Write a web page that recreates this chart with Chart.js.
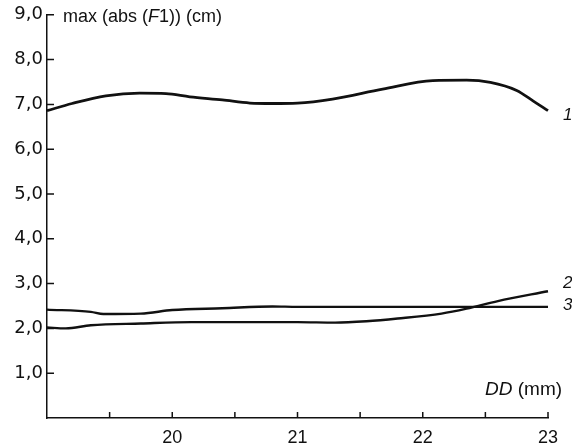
<!DOCTYPE html>
<html>
<head>
<meta charset="utf-8">
<script src="https://cdn.jsdelivr.net/npm/chart.js@4"></script>
<style>
  html, body { margin: 0; padding: 0; background: #fff; }
  #wrap { width: 572px; height: 446px; }
</style>
</head>
<body>
<div id="wrap"><canvas id="myChart"></canvas></div>
<script>
// curve 1 (top)
const dd1 = [19.0, 19.2, 19.47, 19.74, 19.95, 20.14, 20.4, 20.62, 20.8, 21.0, 21.28, 21.68, 22.08, 22.35, 22.54, 22.75, 22.88, 23.0];
const f1 = [6.86, 7.02, 7.19, 7.25, 7.24, 7.17, 7.1, 7.03, 7.02, 7.03, 7.12, 7.34, 7.53, 7.54, 7.49, 7.31, 7.08, 6.86];
// curve 2 (lower, rising at right)
const dd2 = [19.0, 19.15, 19.35, 19.75, 20.15, 20.55, 21.0, 21.3, 21.55, 21.8, 22.15, 22.35, 22.6, 23.0];
const f2 = [2.02, 2.0, 2.07, 2.11, 2.14, 2.14, 2.14, 2.13, 2.16, 2.22, 2.33, 2.44, 2.61, 2.83];
// curve 3 (flat)
const dd3 = [19.0, 19.35, 19.45, 19.75, 20.0, 20.4, 20.8, 21.0, 22.0, 23.0];
const f3 = [2.42, 2.37, 2.32, 2.33, 2.41, 2.45, 2.49, 2.48, 2.48, 2.48];

const yTicks = [1, 2, 3, 4, 5, 6, 7, 8, 9];
const xLabels = [20, 21, 22, 23];
const curveNames = ['1', '2', '3'];
const labelAt = [6.75, 3.0, 2.52];

const pts = (xs, ys) => xs.map((x, i) => ({ x, y: ys[i] }));

const line = (data, w) => ({
  data,
  borderColor: '#111',
  borderWidth: w,
  pointRadius: 0,
  tension: 0.4,
  cubicInterpolationMode: 'monotone',
  clip: false,
});

// inward tick marks + texts
const decor = {
  id: 'decor',
  afterDraw(chart) {
    const { ctx, chartArea: a, scales: { x, y } } = chart;
    ctx.save();
    ctx.strokeStyle = '#111';
    ctx.lineWidth = 1.5;
    ctx.beginPath();
    yTicks.forEach(v => {
      const py = y.getPixelForValue(v);
      ctx.moveTo(a.left, py);
      ctx.lineTo(a.left + 7, py);
    });
    x.ticks.forEach(t => {
      if (t.value <= 19) return;
      const px = x.getPixelForValue(t.value);
      ctx.moveTo(px, a.bottom);
      ctx.lineTo(px, a.bottom - 6);
    });
    ctx.stroke();

    ctx.fillStyle = '#111';
    ctx.textBaseline = 'middle';
    // y title
    let tx = a.left + 16, ty = y.getPixelForValue(9) + 2;
    const parts = [['max (abs (', ''], ['F', 'italic '], ['1)) (cm)', '']];
    parts.forEach(([s, st]) => {
      ctx.font = st + '18px "Liberation Sans"';
      ctx.fillText(s, tx, ty);
      tx += ctx.measureText(s).width;
    });
    // x title
    tx = 485; ty = 390;
    ctx.font = 'italic 19px "Liberation Sans"';
    ctx.fillText('DD', tx, ty);
    tx += ctx.measureText('DD ').width;
    ctx.font = '19px "Liberation Sans"';
    ctx.fillText('(mm)', tx, ty);
    // curve labels
    ctx.font = 'italic 17px "Liberation Sans"';
    curveNames.forEach((n, i) => {
      ctx.fillText(n, x.right + 15, y.getPixelForValue(labelAt[i]));
    });
    ctx.restore();
  }
};

new Chart(document.getElementById('myChart').getContext('2d'), {
  type: 'line',
  data: {
    datasets: [line(pts(dd1, f1), 2.8), line(pts(dd2, f2), 2.4), line(pts(dd3, f3), 2.4)],
  },
  options: {
    responsive: true,
    maintainAspectRatio: false,
    animation: false,
    layout: { padding: { top: 14, right: 24, left: 0, bottom: 0 } },
    plugins: { legend: { display: false }, tooltip: { enabled: false } },
    scales: {
      x: {
        type: 'linear',
        min: 19,
        max: 23,
        afterFit: s => { s.height = 28; },
        grid: { display: false, drawTicks: false },
        border: { display: true, color: '#111', width: 1.5 },
        ticks: {
          stepSize: 0.5,
          autoSkip: false,
          maxRotation: 0,
          padding: 9,
          color: '#111',
          font: { family: 'Liberation Sans', size: 18 },
          callback: v => xLabels.includes(v) ? String(v) : '',
        },
      },
      y: {
        min: 0,
        max: 9,
        afterFit: s => { s.width = 47; },
        grid: { display: false, drawTicks: false },
        border: { display: true, color: '#111', width: 1.5 },
        ticks: {
          stepSize: 1,
          padding: 4,
          color: '#111',
          font: { family: 'DejaVu Sans', size: 18 },
          callback: v => yTicks.includes(v) ? v.toFixed(1).replace('.', ',') : '',
        },
      },
    },
  },
  plugins: [decor],
});
</script>
</body>
</html>
